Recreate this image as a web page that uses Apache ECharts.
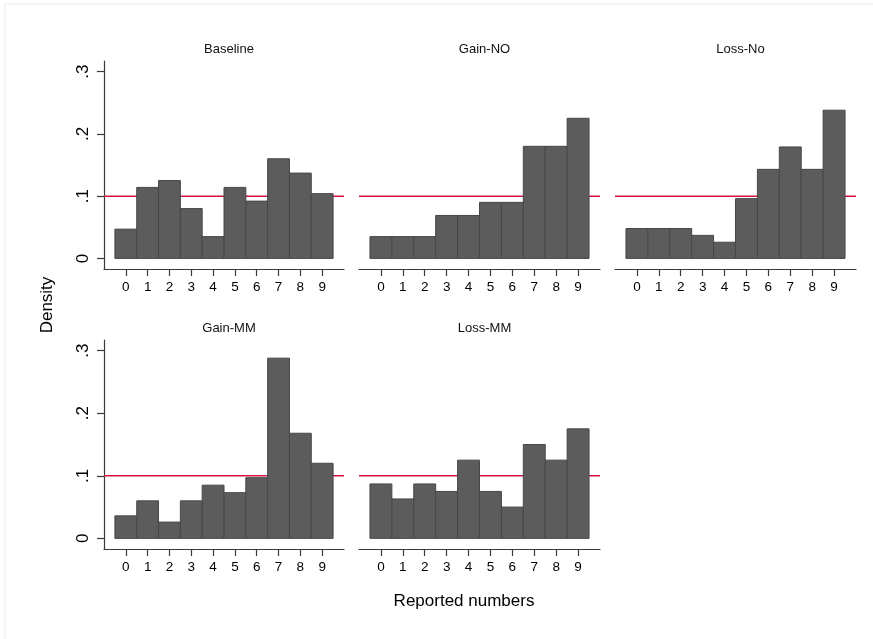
<!DOCTYPE html>
<html>
<head>
<meta charset="utf-8">
<script src="https://cdn.jsdelivr.net/npm/echarts@6/dist/echarts.min.js"></script>
<style>
  html, body { margin: 0; padding: 0; background: #fff; }
  #chart { width: 873px; height: 639px; }
</style>
</head>
<body>
<div id="chart"></div>
<script>
// reported digits and density per treatment
const digits = [0, 1, 2, 3, 4, 5, 6, 7, 8, 9]
const baseline = [0.047, 0.114, 0.125, 0.080, 0.035, 0.114, 0.092, 0.160, 0.137, 0.104]
const gainNO = [0.035, 0.035, 0.035, 0.069, 0.069, 0.090, 0.090, 0.180, 0.180, 0.225]
const lossNo = [0.048, 0.048, 0.048, 0.037, 0.026, 0.096, 0.143, 0.179, 0.143, 0.238]
const gainMM = [0.036, 0.060, 0.026, 0.060, 0.085, 0.073, 0.097, 0.288, 0.168, 0.120]
const lossMM = [0.087, 0.063, 0.087, 0.075, 0.125, 0.075, 0.050, 0.150, 0.125, 0.175]
const panelTitles = ["Baseline", "Gain-NO", "Loss-No", "Gain-MM", "Loss-MM"]
const yTicks = [0, 0.1, 0.2, 0.3]
const refLine = 0.1 // uniform density

const panelData = [baseline, gainNO, lossNo, gainMM, lossMM]

// panel boxes: left, top, width, height
const boxes = [
    [104, 61, 240, 208],
    [359, 61, 241, 208],
    [615, 61, 241, 208],
    [104, 340, 240, 209],
    [359, 340, 241, 209]
]
const xMin = -1, xMax = 10

let chart = echarts.init(document.getElementById("chart"))

function renderBar(params, api) {
    let x = api.value(0)
    let y = api.value(1)
    let p0 = api.coord([x - 0.5, y])
    let p1 = api.coord([x + 0.5, 0])
    return {
        type: "rect",
        shape: { x: p0[0], y: p0[1], width: p1[0] - p0[0], height: p1[1] - p0[1] },
        style: { fill: "#5c5c5c", stroke: "#474747", lineWidth: 1 }
    }
}

let grids = [], xAxes = [], yAxes = [], series = [], titles = []

boxes.forEach(function (b, i) {
    grids.push({ left: b[0], top: b[1], width: b[2], height: b[3] })
    xAxes.push({
        gridIndex: i,
        type: "value",
        min: xMin,
        max: xMax,
        interval: 1,
        splitLine: { show: false },
        axisLine: { onZero: false, lineStyle: { color: "#3a3a3a", width: 1.2 } },
        axisTick: { customValues: digits, length: 7, lineStyle: { color: "#3a3a3a", width: 1.2 } },
        axisLabel: {
            customValues: digits,
            margin: 11,
            fontSize: 13.5,
            color: "#000",
            fontFamily: "Liberation Sans"
        }
    })
    let leftCol = (i === 0 || i === 3)
    yAxes.push({
        gridIndex: i,
        type: "value",
        min: -0.017,
        max: 0.317,
        show: leftCol,
        splitLine: { show: false },
        axisLine: { show: true, onZero: false, lineStyle: { color: "#3a3a3a", width: 1.2 } },
        axisTick: { show: true, customValues: yTicks, length: 7, lineStyle: { color: "#3a3a3a", width: 1.2 } },
        axisLabel: {
            customValues: yTicks,
            rotate: 90,
            margin: 12,
            fontSize: 17,
            color: "#000",
            fontFamily: "Liberation Sans",
            formatter: function (v) {
                return v === 0 ? "0" : v.toFixed(1).replace(/^0/, "")
            }
        }
    })
    // red reference line behind bars
    series.push({
        type: "line",
        xAxisIndex: i,
        yAxisIndex: i,
        data: [[xMin, refLine], [xMax, refLine]],
        showSymbol: false,
        silent: true,
        z: 1,
        lineStyle: { color: "#d4143c", width: 1.5 }
    })
    series.push({
        type: "custom",
        xAxisIndex: i,
        yAxisIndex: i,
        renderItem: renderBar,
        data: digits.map(function (d, k) { return [d, panelData[i][k]] }),
        z: 2,
        silent: true
    })
    titles.push({
        text: panelTitles[i],
        left: b[0] + b[2] / 2,
        top: b[1] - 23,
        textAlign: "center",
        textStyle: { fontSize: 13, fontWeight: "normal", color: "#111", fontFamily: "Liberation Sans" }
    })
})

let option = {
    backgroundColor: "#fff",
    animation: false,
    title: titles,
    grid: grids,
    xAxis: xAxes,
    yAxis: yAxes,
    series: series,
    graphic: [
        { type: "line", shape: { x1: 5, y1: 4, x2: 873, y2: 4 }, style: { stroke: "#e8ecef", lineWidth: 1 } },
        { type: "line", shape: { x1: 5, y1: 4, x2: 5, y2: 639 }, style: { stroke: "#e8ecef", lineWidth: 1 } },
        {
            type: "text",
            x: 47,
            y: 305,
            rotation: Math.PI / 2,
            style: { text: "Density", font: "17px Liberation Sans", fill: "#000", align: "center", verticalAlign: "middle" }
        },
        {
            type: "text",
            x: 464,
            y: 601,
            style: { text: "Reported numbers", font: "17px Liberation Sans", fill: "#000", align: "center", verticalAlign: "middle" }
        }
    ]
}

chart.setOption(option)
</script>
</body>
</html>
